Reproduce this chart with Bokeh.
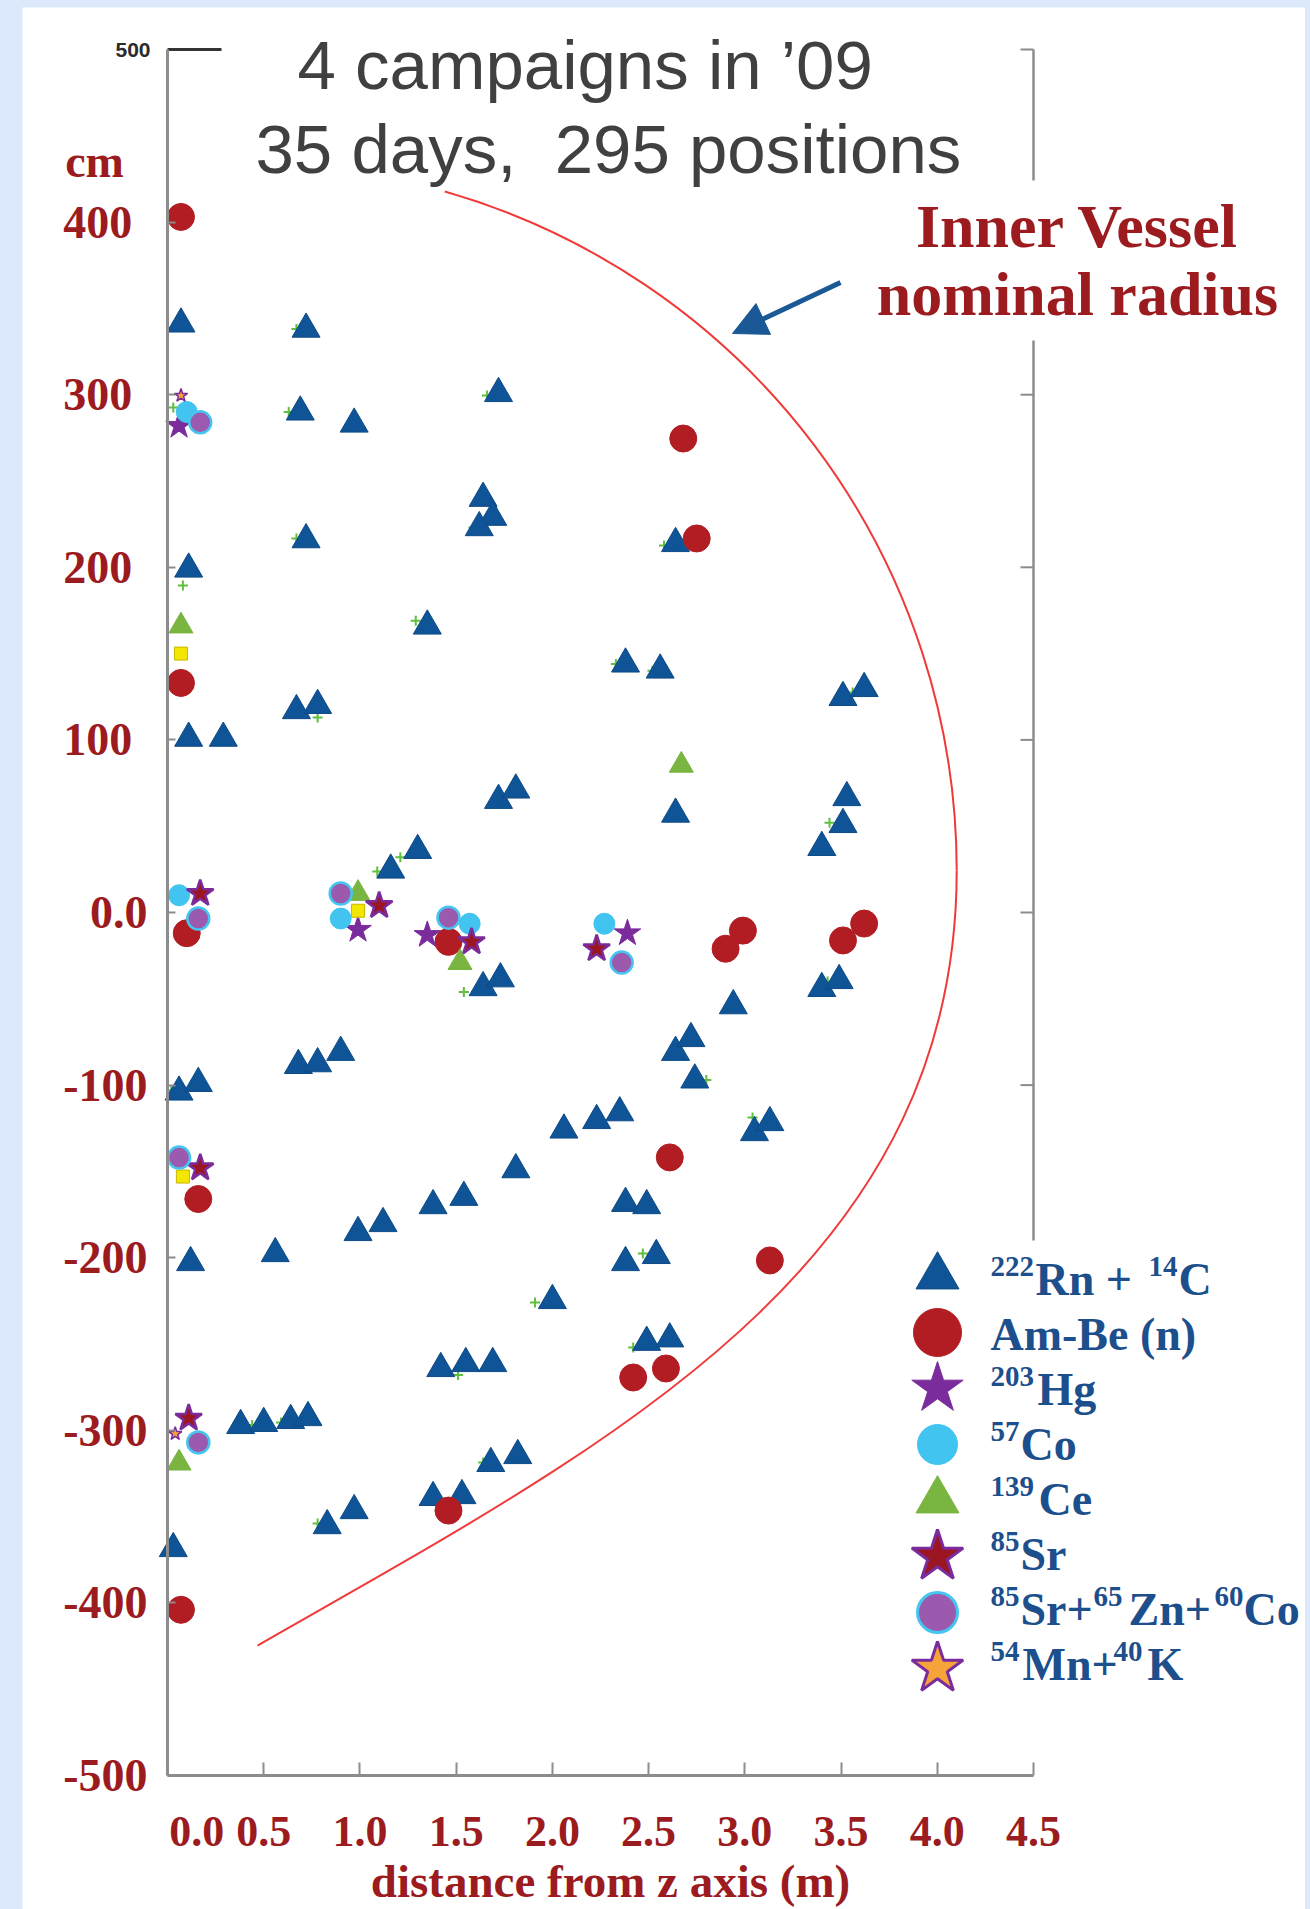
from bokeh.plotting import figure
from bokeh.layouts import column
from bokeh.models import Range1d, LinearAxis, FixedTicker, Label, Arrow, NormalHead
from bokeh.embed import file_html
from bokeh.resources import INLINE

# ---------------------------------------------------------------------------
# Calibration source positions: distance from z axis (m), height z (cm)
# ---------------------------------------------------------------------------
rn_x = [0.07, 0.72, 1.72, 0.69, 0.97, 1.64, 1.69, 1.62, 0.72, 2.64,
        0.11, 1.35, 2.38, 2.56, 3.51, 3.62, 0.67, 0.78, 0.11, 0.29,
        1.72, 1.81, 3.53, 3.51, 2.64, 3.40, 1.30, 1.16,
        1.64, 1.73, 3.40, 3.49, 2.94, 2.64, 2.72, 2.74, 0.68, 0.78,
        0.90, 0.06, 0.16,
        2.06, 2.23, 2.35, 3.05, 3.13, 1.81, 1.38, 1.54, 0.99, 1.12,
        0.56, 0.12, 2.38, 2.49, 2.38, 2.54, 2.00, 2.49, 2.61,
        1.42, 1.55, 1.69, 0.38, 0.50, 0.64, 0.73, 1.68, 1.82, 1.38,
        1.53, 0.83, 0.97, 0.03]
rn_y = [341, 338, 300.7, 290, 283, 240, 229, 223, 216, 213.8,
        199, 166, 144, 140.5, 124.6, 129.8, 117, 120, 101, 101,
        65, 71, 66.6, 51, 57, 37.7, 36, 24.6,
        -43.5, -38.4, -44, -39.4, -54, -81, -73, -97, -88.6, -87.6,
        -81, -104, -99,
        -126, -120.5, -116, -127.5, -121.7, -149, -169.8, -165, -185.4, -180.2,
        -197.6, -202.8, -168.5, -169.8, -202.8, -198.7, -224.8, -249, -247,
        -264.2, -261.3, -261.3, -297.2, -296, -294.3, -292.6, -319.2, -314.6, -338.9,
        -337.8, -355.2, -346.5, -368.5]

ambe_x = [0.07, 2.68, 2.75, 0.07, 0.10, 1.46, 2.90, 2.99, 3.51, 3.62,
          2.61, 0.16, 3.13, 2.42, 2.59, 1.46, 0.07]
ambe_y = [403, 274.6, 216.7, 133, -12, -17, -21, -10.5, -16.2, -6.4,
          -141.9, -166, -201.6, -269.4, -264.2, -346.5, -404]

hg_x = [0.06, 0.99, 1.35, 2.39]
hg_y = [282, -10, -13, -12]

co57_x = [0.10, 0.06, 0.90, 1.57, 2.27]
co57_y = [290, 10, -3.5, -6.5, -6.5]

ce_x = [0.07, 0.99, 1.52, 2.67, 0.06]
ce_y = [166, 11, -29, 85.3, -319]

sr85_x = [0.17, 1.10, 1.58, 2.23, 0.17, 0.11]
sr85_y = [11, 4, -17, -21, -148, -293]

srzn_x = [0.17, 0.16, 0.90, 1.46, 2.36, 0.06, 0.16]
srzn_y = [284, -3.5, 11, -3, -29, -142, -307]

mnk_x = [0.07, 0.04]
mnk_y = [299.5, -302]

# small unlabelled markers
sq_x = [0.07, 0.99, 0.08]
sq_y = [150, 1, -153]

plus_x = [0.03, 0.08, 0.67, 0.63, 0.67, 1.29, 0.78, 1.09, 1.21, 1.54,
          1.66, 1.59, 2.58, 3.56, 3.44, 3.43, 1.91, 2.42, 1.51, 1.64,
          0.59, 0.44, 0.78, 3.04, 2.47, 2.33, 2.52, 2.80, 0.02]
plus_y = [292.6, 189.5, 216.7, 290, 338, 169, 113, 23.8, 32, -46,
          299.5, 223, 212.6, 127.5, 52, -40, -226, -252, -268, -318.7,
          -295.5, -297, -354, -118.8, -197.6, 144, 140, -97, -103]

# axis ticks
X_TICKS = [0.0, 0.5, 1.0, 1.5, 2.0, 2.5, 3.0, 3.5, 4.0, 4.5]
X_LABELS = ["\u2003\u20040.0", "0.5", "1.0", "1.5", "2.0", "2.5", "3.0", "3.5", "4.0", "4.5"]
Y_TICKS = [-500, -400, -300, -200, -100, 0, 100, 200, 300, 400]
Y_LABELS = ["-500", "-400", "-300", "-200", "-100", "0.0",
            "100\u2004", "200\u2004", "300\u2004", "400\u2004"]
RIGHT_TICKS = [-100, 0, 100, 200, 300, 400, 500]

# legend entries: (marker, size, fill, line, line width) and text pieces (text, x, superscript?)
LEGEND = [
    (("triangle", 43, "#0e5496", "#0e4a86", 1), [("222", 990, True), ("Rn +", 1035, False), ("14", 1148, True), ("C", 1178, False)]),
    (("circle", 48, "#b21d23", "#b21d23", 1), [("Am-Be (n)", 990, False)]),
    (("star", 54, "#7b2c9c", "#7b2c9c", 1), [("203", 990, True), ("Hg", 1037, False)]),
    (("circle", 40, "#41c4f0", "#41c4f0", 1), [("57", 990, True), ("Co", 1020, False)]),
    (("triangle", 43, "#79b540", "#79b540", 1), [("139", 990, True), ("Ce", 1038, False)]),
    (("star", 54, "#9c1622", "#7b2c9c", 3), [("85", 990, True), ("Sr", 1020, False)]),
    (("circle", 40, "#9b5aae", "#45c6f0", 3), [("85", 990, True), ("Sr+", 1020, False), ("65", 1093, True),
                                              ("Zn+", 1128, False), ("60", 1214, True), ("Co", 1243, False)]),
    (("star", 54, "#f6a43a", "#7b2c9c", 3), [("54", 990, True), ("Mn+", 1022, False), ("40", 1113, True), ("K", 1147, False)]),
]

# ---------------------------------------------------------------------------
# Page geometry (pixels on the page)
# ---------------------------------------------------------------------------
PAGE_W, PAGE_H = 1310, 1909
PANEL_L, PANEL_T, PANEL_R = 22, 7, 5
FRAME_L, FRAME_R, FRAME_T, FRAME_B = 167, 1033, 49, 1775
X_AXIS = (0.0, 4.5)
Y_AXIS = (-500.0, 500.0)

DARK_RED = "#9b1b1f"
AXIS_GREY = "#8c8c8c"
LEGEND_BLUE = "#1c4f8c"
SERIF = "Liberation Serif"
SANS = "Liberation Sans"

PX_PER_M = (FRAME_R - FRAME_L) / (X_AXIS[1] - X_AXIS[0])


def to_data(px, py):
    """Page pixel position -> data coordinates of the axes box."""
    x = X_AXIS[0] + (px - FRAME_L) * (X_AXIS[1] - X_AXIS[0]) / (FRAME_R - FRAME_L)
    y = Y_AXIS[1] - (py - FRAME_T) * (Y_AXIS[1] - Y_AXIS[0]) / (FRAME_B - FRAME_T)
    return x, y


fig_w = PAGE_W - PANEL_L - PANEL_R
fig_h = PAGE_H - PANEL_T
x_lo, y_hi = to_data(PANEL_L, PANEL_T)
x_hi, y_lo = to_data(PAGE_W - PANEL_R, PAGE_H)

# the whole white panel is the plotting area; axes sit at fixed data positions
p = figure(width=fig_w, height=fig_h,
           x_range=Range1d(x_lo, x_hi), y_range=Range1d(y_lo, y_hi),
           x_axis_location=None, y_axis_location=None,
           output_backend="svg", toolbar_location=None, min_border=0)
p.margin = (PANEL_T, PANEL_R, 0, PANEL_L)
p.grid.visible = False
p.outline_line_color = None
p.background_fill_color = "white"
p.border_fill_color = "white"

# bottom axis
xa = LinearAxis(fixed_location=Y_AXIS[0], bounds=X_AXIS, ticker=FixedTicker(ticks=X_TICKS),
                major_label_overrides=dict(zip(X_TICKS, X_LABELS)),
                axis_line_color=AXIS_GREY, axis_line_width=3,
                major_tick_in=13, major_tick_out=0,
                major_tick_line_color=AXIS_GREY, major_tick_line_width=2,
                minor_tick_line_color=None, major_label_standoff=31,
                major_label_text_font=SERIF, major_label_text_font_style="bold",
                major_label_text_font_size="44px", major_label_text_color=DARK_RED)
p.add_layout(xa, "below")

# left axis
ya = LinearAxis(fixed_location=X_AXIS[0], bounds=Y_AXIS, ticker=FixedTicker(ticks=Y_TICKS),
                major_label_overrides=dict(zip(Y_TICKS, Y_LABELS)),
                axis_line_color=AXIS_GREY, axis_line_width=3,
                major_tick_in=8, major_tick_out=0,
                major_tick_line_color=AXIS_GREY, major_tick_line_width=2,
                minor_tick_line_color=None, major_label_standoff=20,
                major_label_text_font=SERIF, major_label_text_font_style="bold",
                major_label_text_font_size="46px", major_label_text_color=DARK_RED)
p.add_layout(ya, "left")

# short stub of the top frame line, and the right frame line with inward ticks
stub_x1, _ = to_data(221, FRAME_T)
p.segment(x0=[X_AXIS[0]], y0=[Y_AXIS[1]], x1=[stub_x1], y1=[Y_AXIS[1]],
          line_color="#333333", line_width=3)
p.segment(x0=[X_AXIS[1]], y0=[-190], x1=[X_AXIS[1]], y1=[Y_AXIS[1]],
          line_color=AXIS_GREY, line_width=2.5)
tick_len = 13 / PX_PER_M
p.segment(x0=[X_AXIS[1]] * len(RIGHT_TICKS), y0=RIGHT_TICKS,
          x1=[X_AXIS[1] - tick_len] * len(RIGHT_TICKS), y1=RIGHT_TICKS,
          line_color=AXIS_GREY, line_width=2)

# ---------------------------------------------------------------------------
# Inner vessel outline
# ---------------------------------------------------------------------------
VESSEL_RED = "#f03a3a"
VESSEL_CX, VESSEL_CY = 0.431, 24.3
VESSEL_R = 3.67
VESSEL_TOP_ANGLE = 1.292
p.arc(x=[VESSEL_CX], y=[VESSEL_CY], radius=VESSEL_R, start_angle=0, end_angle=VESSEL_TOP_ANGLE,
      line_color=VESSEL_RED, line_width=2)
p.bezier(x0=[VESSEL_CX + VESSEL_R], y0=[VESSEL_CY],
         cx0=[VESSEL_CX + VESSEL_R], cy0=[-207.4],
         cx1=[2.271], cy1=[-309.4],
         x1=[0.468], y1=[-424.7],
         line_color=VESSEL_RED, line_width=2)

# ---------------------------------------------------------------------------
# Source positions
# ---------------------------------------------------------------------------
p.scatter(plus_x, plus_y, marker="cross", size=10, line_color="#5fbf3f", line_width=2)
p.scatter(rn_x, rn_y, marker="triangle", size=28, fill_color="#0e5496", line_color="#0e4a86", line_width=1)
p.scatter(ambe_x, ambe_y, marker="circle", size=27, fill_color="#b21d23", line_color="#b21d23")
p.scatter(hg_x, hg_y, marker="star", size=28, fill_color="#7b2c9c", line_color="#7b2c9c")
p.scatter(co57_x, co57_y, marker="circle", size=21, fill_color="#41c4f0", line_color="#41c4f0")
p.scatter(ce_x, ce_y, marker="triangle", size=24, fill_color="#79b540", line_color="#79b540")
p.scatter(sq_x, sq_y, marker="square", size=13, fill_color="#f3e600", line_color="#c8b800")
p.scatter(sr85_x, sr85_y, marker="star", size=28, fill_color="#9c1622", line_color="#7b2c9c", line_width=2.5)
p.scatter(srzn_x, srzn_y, marker="circle", size=22, fill_color="#9b5aae", line_color="#45c6f0", line_width=2.5)
p.scatter(mnk_x, mnk_y, marker="star", size=14, fill_color="#f6a43a", line_color="#7b2c9c", line_width=1.5)

# ---------------------------------------------------------------------------
# Texts and annotations
# ---------------------------------------------------------------------------
BASELINE_SHIFT = 0.34   # alphabetic baseline correction, in font sizes


def add_text(text, px, py, size, color, font, style="normal", align="left", bg=None, pad=0):
    x, y = to_data(px, py - BASELINE_SHIFT * size)
    lab = Label(x=x, y=y, text=text, text_font=font, text_font_size=f"{size}px",
                text_font_style=style, text_color=color,
                text_align=align, text_baseline="alphabetic")
    if bg is not None:
        lab.background_fill_color = bg
        lab.padding = pad
    p.add_layout(lab)


add_text("4 campaigns in \u201909", 297, 88, 69, "#404040", SANS)
add_text("35 days,\u00a0 295 positions", 255, 172, 69, "#404040", SANS)

add_text("Inner Vessel", 1077, 247, 62, DARK_RED, SERIF, "bold", "center", bg="white", pad=12)
add_text("nominal radius", 1077, 315, 62, DARK_RED, SERIF, "bold", "center", bg="white", pad=12)

add_text("cm", 94, 177, 46, DARK_RED, SERIF, "bold", "center")
add_text("500", 150, 57, 21, "#2b2b2b", SANS, "bold", "right")
add_text("distance from z axis (m)", 610, 1896, 47, DARK_RED, SERIF, "bold", "center")

ax0, ay0 = to_data(840, 282)
ax1, ay1 = to_data(732, 333)
p.add_layout(Arrow(x_start=ax0, y_start=ay0, x_end=ax1, y_end=ay1,
                   line_color="#1a5896", line_width=5,
                   end=NormalHead(size=34, fill_color="#1a5896", line_color="#1a5896")))

# legend
for i, ((marker, size, fill, line, lw), pieces) in enumerate(LEGEND):
    mx, my = to_data(937, 1276 + 56 * i)
    p.scatter([mx], [my], marker=marker, size=size, fill_color=fill, line_color=line, line_width=lw)
    base = 1295 + 55 * i
    for text, px, sup in pieces:
        if sup:
            add_text(text, px, base - 19, 29, LEGEND_BLUE, SERIF, "bold")
        else:
            add_text(text, px, base, 46, LEGEND_BLUE, SERIF, "bold")

page = column(p, styles={"background-color": "#dce8fb"}, width=PAGE_W, height=PAGE_H)

open("out.html", "w").write(file_html(page, INLINE))
